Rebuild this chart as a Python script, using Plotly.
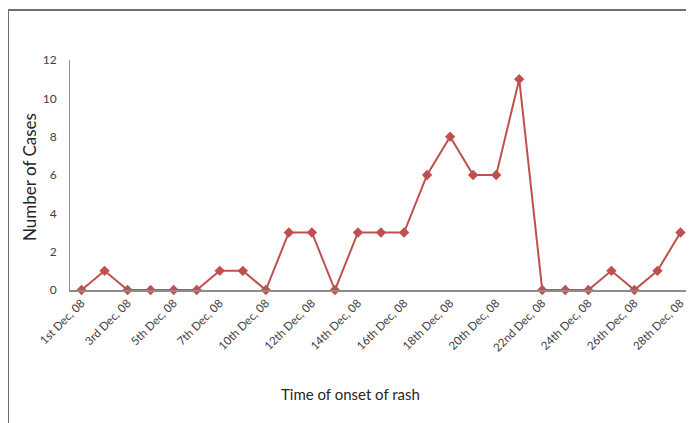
import plotly.graph_objects as go

dates = ["1st Dec, 08", "2nd Dec, 08", "3rd Dec, 08", "4th Dec, 08", "5th Dec, 08",
         "6th Dec, 08", "7th Dec, 08", "8th Dec, 08", "10th Dec, 08", "11th Dec, 08",
         "12th Dec, 08", "13th Dec, 08", "14th Dec, 08", "15th Dec, 08", "16th Dec, 08",
         "17th Dec, 08", "18th Dec, 08", "19th Dec, 08", "20th Dec, 08", "21st Dec, 08",
         "22nd Dec, 08", "23rd Dec, 08", "24th Dec, 08", "25th Dec, 08", "26th Dec, 08",
         "27th Dec, 08", "28th Dec, 08"]
cases = [0, 1, 0, 0, 0, 0, 1, 1, 0, 3, 3, 0, 3, 3, 3, 6, 8, 6, 6, 11, 0, 0, 0, 1, 0, 1, 3]
tick_labels = dates[::2]
y_ticks = [0, 2, 4, 6, 8, 10, 12]

FONT = "Lato, Open Sans, sans-serif"
RED = "#C0504D"

# page has ~8px body offset; figure coordinates = reference pixel - 8
OFF = 8
L, R, T, B = 70 - OFF, 692 - OFF, 60 - OFF, 290 - OFF
W, H = 694 - OFF, 423 - OFF
PW, PH = R - L, B - T


def px(x):
    return (x - OFF - L) / PW


def py(y):
    return (B - (y - OFF)) / PH


fig = go.Figure()
fig.add_trace(go.Scatter(
    x=dates, y=cases, mode="lines+markers",
    line=dict(color=RED, width=2),
    marker=dict(symbol="diamond", size=8, color=RED),
    cliponaxis=False, showlegend=False,
))

fig.update_layout(
    width=W, height=H,
    margin=dict(l=L, r=W - R, t=T, b=H - B),
    paper_bgcolor="white", plot_bgcolor="white",
    font=dict(family=FONT, color="#404040", size=11),
    xaxis=dict(
        type="category", categoryorder="array", categoryarray=dates,
        tickmode="array", tickvals=tick_labels, ticktext=tick_labels,
        tickangle=-45, showgrid=False, showline=True, linecolor="#8c8c8c",
        linewidth=2, ticks="", zeroline=False, range=[-0.5, 26.5],
        tickfont=dict(size=11.5, family=FONT, color="#404040"),
    ),
    yaxis=dict(
        range=[0, 12], tickvals=y_ticks, showgrid=False, showline=True,
        linecolor="#8c8c8c", linewidth=1, ticks="", zeroline=False,
        tickfont=dict(size=12, family=FONT, color="#404040"),
        ticklabelstandoff=10,
    ),
    annotations=[
        dict(text="Number of Cases", xref="paper", yref="paper",
             x=px(29), y=py(177), textangle=-90,
             showarrow=False, font=dict(size=17, family=FONT, color="#262626"),
             xanchor="center", yanchor="middle"),
        dict(text="Time of onset of rash", xref="paper", yref="paper",
             x=px(350), y=py(394),
             showarrow=False, font=dict(size=15, family=FONT, color="#262626"),
             xanchor="center", yanchor="middle"),
    ],
    shapes=[
        dict(type="line", xref="paper", yref="paper",
             x0=px(8), x1=px(710), y0=py(10), y1=py(10),
             line=dict(color="#6e6e6e", width=2)),
        dict(type="line", xref="paper", yref="paper",
             x0=px(8), x1=px(8), y0=py(10), y1=py(440),
             line=dict(color="#6e6e6e", width=2)),
    ],
)

fig.write_html("out.html")
